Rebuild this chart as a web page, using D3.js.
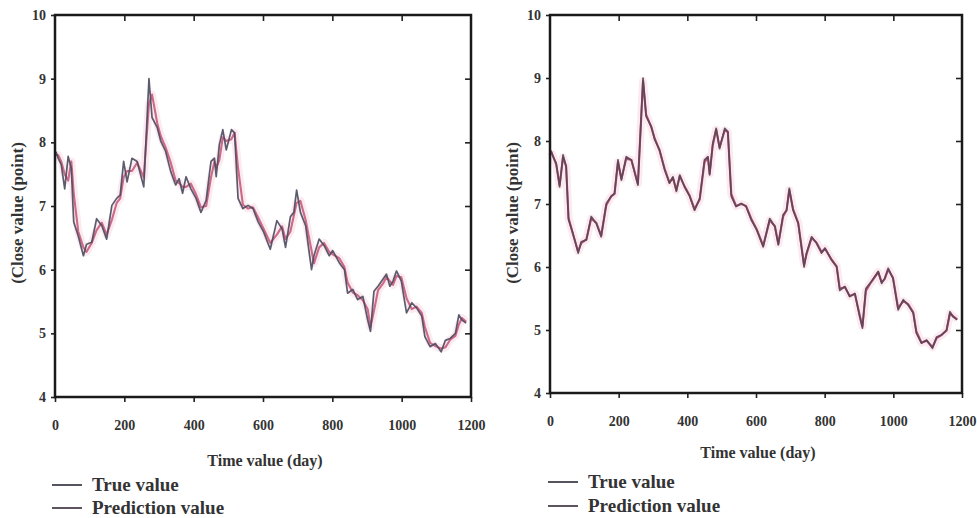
<!DOCTYPE html>
<html>
<head>
<meta charset="utf-8">
<script src="https://cdnjs.cloudflare.com/ajax/libs/d3/7.8.5/d3.min.js"></script>
<style>
	body { margin: 0; background: #fff; }
	svg { display: block; }
</style>
</head>
<body>
<div id="chart"></div>
<script>
//Days of the samples, shared by both panels
var days = [3, 9, 18, 28, 38, 47, 54, 67, 82, 91, 106, 120, 135, 149, 164, 178, 188, 198, 208, 222,
	237, 256, 271, 280, 295, 305, 319, 334, 348, 358, 368, 378, 392, 407, 421, 436, 450, 460, 465, 474,
	484, 494, 509, 518, 528, 542, 557, 571, 586, 602, 621, 640, 655, 665, 679, 689, 697, 708, 723, 740,
	747, 762, 776, 791, 801, 820, 835, 844, 859, 873, 888, 902, 910, 920, 932, 946, 956, 966, 975, 985,
	999, 1014, 1029, 1043, 1058, 1067, 1082, 1097, 1114, 1126, 1140, 1155, 1165, 1174, 1186];

//Close values
var trueValues = [7.85, 7.75, 7.65, 7.27, 7.78, 7.59, 6.75, 6.53, 6.22, 6.40, 6.43, 6.80, 6.69, 6.48, 7.01, 7.12, 7.17, 7.70, 7.38, 7.75,
	7.70, 7.30, 9.00, 8.39, 8.23, 8.02, 7.86, 7.54, 7.33, 7.43, 7.20, 7.46, 7.27, 7.12, 6.90, 7.09, 7.70, 7.75, 7.46, 7.96,
	8.20, 7.88, 8.20, 8.15, 7.12, 6.96, 7.01, 6.96, 6.75, 6.59, 6.32, 6.77, 6.64, 6.35, 6.83, 6.90, 7.25, 6.90, 6.69, 6.00,
	6.22, 6.48, 6.38, 6.22, 6.30, 6.11, 6.00, 5.63, 5.69, 5.53, 5.58, 5.21, 5.03, 5.66, 5.74, 5.85, 5.93, 5.74, 5.82, 5.98,
	5.82, 5.32, 5.48, 5.40, 5.27, 4.95, 4.79, 4.84, 4.71, 4.89, 4.92, 5.00, 5.29, 5.21, 5.16];

//Left panel prediction (lags a bit behind)
var leftPredValues = [7.80, 7.80, 7.70, 7.50, 7.40, 7.70, 7.20, 6.60, 6.35, 6.28, 6.42, 6.62, 6.74, 6.55, 6.78, 7.05, 7.12, 7.45, 7.55, 7.55,
	7.68, 7.45, 8.60, 8.75, 8.30, 8.10, 7.92, 7.68, 7.40, 7.36, 7.30, 7.30, 7.35, 7.18, 6.98, 7.00, 7.45, 7.70, 7.60, 7.72,
	8.08, 8.02, 8.05, 8.15, 7.60, 7.02, 6.96, 6.98, 6.82, 6.64, 6.42, 6.55, 6.68, 6.48, 6.60, 6.85, 7.05, 7.08, 6.78, 6.30,
	6.10, 6.35, 6.42, 6.28, 6.24, 6.18, 6.04, 5.80, 5.64, 5.60, 5.52, 5.38, 5.10, 5.35, 5.68, 5.78, 5.88, 5.82, 5.76, 5.90,
	5.88, 5.55, 5.38, 5.42, 5.32, 5.10, 4.85, 4.80, 4.76, 4.78, 4.90, 4.96, 5.14, 5.24, 5.18];

//Right panel prediction (almost on top of the true value)
var rightPredValues = [7.83, 7.76, 7.63, 7.30, 7.74, 7.60, 6.78, 6.52, 6.25, 6.38, 6.44, 6.77, 6.70, 6.50, 6.98, 7.12, 7.16, 7.66, 7.40, 7.72,
	7.70, 7.32, 8.95, 8.42, 8.22, 8.04, 7.85, 7.56, 7.34, 7.42, 7.22, 7.44, 7.28, 7.13, 6.92, 7.07, 7.66, 7.74, 7.48, 7.93,
	8.18, 7.90, 8.17, 8.14, 7.16, 6.97, 7.00, 6.97, 6.77, 6.60, 6.34, 6.74, 6.65, 6.37, 6.80, 6.90, 7.22, 6.92, 6.70, 6.04,
	6.20, 6.46, 6.39, 6.24, 6.29, 6.12, 6.01, 5.66, 5.68, 5.54, 5.57, 5.24, 5.06, 5.62, 5.73, 5.84, 5.92, 5.76, 5.81, 5.96,
	5.83, 5.35, 5.46, 5.41, 5.28, 4.98, 4.80, 4.83, 4.73, 4.87, 4.92, 4.99, 5.26, 5.22, 5.17];

var xTicks = [0, 200, 400, 600, 800, 1000, 1200];
var yTicks = [4, 5, 6, 7, 8, 9, 10];
var legendLabels = ["True value", "Prediction value"];

var serif = "'Liberation Serif', 'Times New Roman', serif";

var svg = d3.select("#chart")
	.append("svg")
	.attr("width", 977)
	.attr("height", 518);

//Panel boxes, in page pixels
var panels = [
	{left: 55, right: 471, top: 15, bottom: 397, pred: leftPredValues,
		predColor: "#cc6a88", trueColor: "#4a4a5e", titleX: 17, xTitleY: 466,
		legendX: 52, legendY: [485, 508]},
	{left: 550, right: 962, top: 15, bottom: 393, pred: rightPredValues,
		predColor: "#b85474", trueColor: "#5a4456", titleX: 512, xTitleY: 458,
		legendX: 548, legendY: [482, 506]}
];

panels.forEach(drawPanel);

function drawPanel(p)
{
	var x = d3.scaleLinear()
		.domain([0, 1200])
		.range([p.left, p.right]);

	var y = d3.scaleLinear()
		.domain([4, 10])
		.range([p.bottom, p.top]);

	var g = svg.append("g");

	//Lines first, the frame goes over them
	var trueData = days.map(function(d, i){ return [d, trueValues[i]]; });
	var predData = days.map(function(d, i){ return [d, p.pred[i]]; });

	var line = d3.line()
		.x(function(d){ return x(d[0]); })
		.y(function(d){ return y(d[1]); });

	//faint pink glow round the curves (like the scan)
	g.append("path")
		.datum(predData)
		.attr("fill", "none")
		.attr("stroke", "#f3c3d0")
		.attr("stroke-width", 8)
		.attr("stroke-opacity", 0.35)
		.attr("stroke-linejoin", "round")
		.attr("d", line);

	g.append("path")
		.datum(predData)
		.attr("fill", "none")
		.attr("stroke", p.predColor)
		.attr("stroke-width", 2.1)
		.attr("stroke-linejoin", "round")
		.attr("d", line);

	g.append("path")
		.datum(trueData)
		.attr("fill", "none")
		.attr("stroke", p.trueColor)
		.attr("stroke-width", 1.7)
		.attr("stroke-opacity", 0.9)
		.attr("stroke-linejoin", "round")
		.attr("d", line);

	//Axes: bottom and left with labels, top and right with inner ticks only
	var bottomAxis = g.append("g")
		.attr("transform", "translate(0," + p.bottom + ")")
		.call(d3.axisBottom(x).tickValues(xTicks).tickFormat(d3.format("d"))
			.tickSizeInner(5).tickSizeOuter(0).tickPadding(18));

	var leftAxis = g.append("g")
		.attr("transform", "translate(" + p.left + ",0)")
		.call(d3.axisLeft(y).tickValues(yTicks).tickFormat(d3.format("d"))
			.tickSizeInner(4).tickSizeOuter(0).tickPadding(5));

	var topAxis = g.append("g")
		.attr("transform", "translate(0," + p.top + ")")
		.call(d3.axisBottom(x).tickValues(xTicks.slice(1, -1)).tickSizeInner(6).tickSizeOuter(0).tickFormat(""));

	var rightAxis = g.append("g")
		.attr("transform", "translate(" + p.right + ",0)")
		.call(d3.axisLeft(y).tickValues(yTicks.slice(1, -1)).tickSizeInner(6).tickSizeOuter(0).tickFormat(""));

	[bottomAxis, leftAxis, topAxis, rightAxis].forEach(function(a)
	{
		a.select(".domain").remove();
		a.selectAll(".tick line")
			.attr("stroke", "#222")
			.attr("stroke-width", 1.6);
		a.selectAll(".tick text")
			.style("font-family", serif)
			.style("font-weight", "bold")
			.style("font-size", "14px")
			.attr("fill", "#333");
	});

	//The frame
	g.append("rect")
		.attr("x", p.left)
		.attr("y", p.top)
		.attr("width", p.right - p.left)
		.attr("height", p.bottom - p.top)
		.attr("fill", "none")
		.attr("stroke", "#1a1a1a")
		.attr("stroke-width", 2.5);

	//Axis titles
	g.append("text")
		.attr("x", (p.left + p.right) / 2 + 2)
		.attr("y", p.xTitleY)
		.attr("text-anchor", "middle")
		.style("font-family", serif)
		.style("font-weight", "bold")
		.style("font-size", "16px")
		.attr("fill", "#333")
		.text("Time value (day)");

	g.append("text")
		.attr("transform", "translate(" + p.titleX + "," + 213 + ") rotate(-90)")
		.attr("text-anchor", "middle")
		.attr("dy", "0.35em")
		.style("font-family", serif)
		.style("font-weight", "bold")
		.style("font-size", "17px")
		.attr("fill", "#333")
		.text("(Close value (point)");

	//Legend below the panel
	var legendColors = ["#555560", "#5e5460"];
	for(var i = 0; i < legendLabels.length; i++)
	{
		g.append("line")
			.attr("x1", p.legendX)
			.attr("x2", p.legendX + 30)
			.attr("y1", p.legendY[i])
			.attr("y2", p.legendY[i])
			.attr("stroke", legendColors[i])
			.attr("stroke-width", 2);

		g.append("text")
			.attr("x", p.legendX + 40)
			.attr("y", p.legendY[i])
			.attr("dy", "0.3em")
			.style("font-family", serif)
			.style("font-weight", "bold")
			.style("font-size", "19px")
			.attr("fill", "#333")
			.text(legendLabels[i]);
	}
}
</script>
</body>
</html>
